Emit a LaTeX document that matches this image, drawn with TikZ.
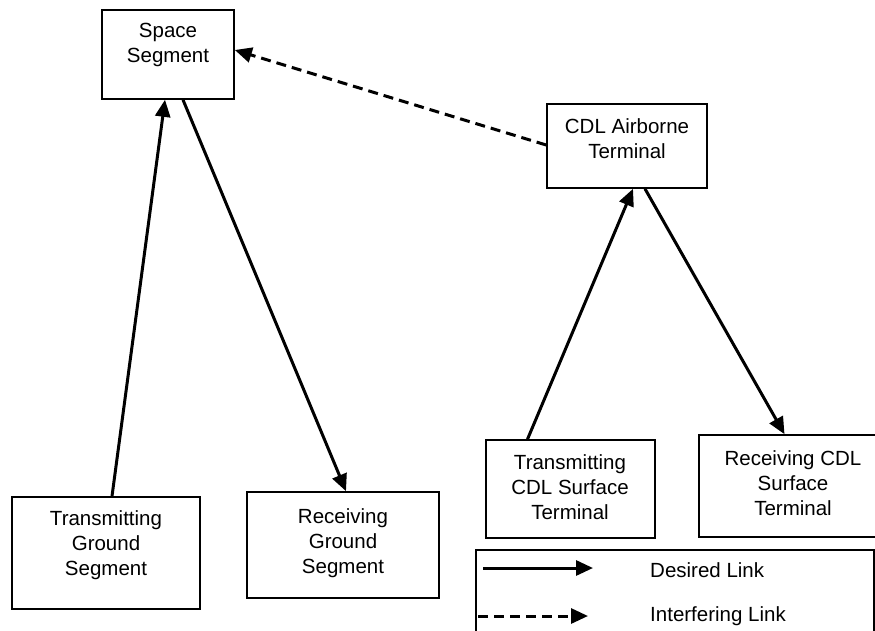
\documentclass[tikz,border=0pt]{standalone}
\usepackage{fontspec}
\setmainfont{Liberation Sans}
\usetikzlibrary{arrows.meta}
\begin{document}
\begin{tikzpicture}[x=1pt,y=-1pt,
  box/.style={draw, line width=1.6pt, inner sep=0pt},
  txt/.style={align=center, inner sep=0pt, font=\fontsize{20.5}{25}\selectfont},
  ltxt/.style={anchor=west, inner sep=0pt, font=\fontsize{20.5}{25}\selectfont},
  link/.style={line width=3pt, -{Triangle[length=17pt,width=15pt]}},
  ilink/.style={link, dash pattern=on 10pt off 6pt}]
\clip (0,0) rectangle (875,630);
\fill[white] (0,0) rectangle (875,630);
% boxes
\node[box, minimum width=132pt, minimum height=89pt] (ss) at (168,54.5) {};
\node[txt] (ssT) at (168,44.5) {Space\\Segment};
\node[box, minimum width=160pt, minimum height=84pt] (cdl) at (627,146) {};
\node[txt] (cdlT) at (627,139) {CDL Airborne\\Terminal};
\node[box, minimum width=188pt, minimum height=112pt] (tgs) at (106,553) {};
\node[txt] (tgsT) at (106,545) {Transmitting\\Ground\\Segment};
\node[box, minimum width=192pt, minimum height=106pt] (rgs) at (343,545) {};
\node[txt] (rgsT) at (343,543) {Receiving\\Ground\\Segment};
\node[box, minimum width=169pt, minimum height=98pt] (tcs) at (570.5,489) {};
\node[txt] (tcsT) at (570,487) {Transmitting\\CDL Surface\\Terminal};
\node[box, minimum width=191pt, minimum height=102pt] (rcs) at (794.5,486) {};
\node[txt] (rcsT) at (793,483) {Receiving CDL\\Surface\\Terminal};
% links
\draw[link] ([xshift=6pt]tgs.north) -- ([xshift=-3pt]ss.south);
\draw[link] ([xshift=15pt]ss.south) -- ([xshift=3pt]rgs.north);
\draw[link] ([xshift=-43pt]tcs.north) -- ([xshift=6pt]cdl.south);
\draw[link] ([xshift=18pt]cdl.south) -- ([xshift=-10pt]rcs.north);
\draw[ilink] ([yshift=1pt]cdl.west) -- ([yshift=4.5pt]ss.east);
% legend
\node[box, minimum width=398pt, minimum height=110pt, anchor=north west] (leg) at (475,549) {};
\coordinate (d1) at (483,568);
\coordinate (d2) at (593,568);
\coordinate (i1) at (478,616);
\coordinate (i2) at (588,616);
\draw[link] (d1) -- (d2);
\draw[ilink] (i1) -- (i2);
\node[ltxt] (dT) at (650,570) {Desired Link};
\node[ltxt] (iT) at (650,616) {Interfering Link};
\end{tikzpicture}
\end{document}
